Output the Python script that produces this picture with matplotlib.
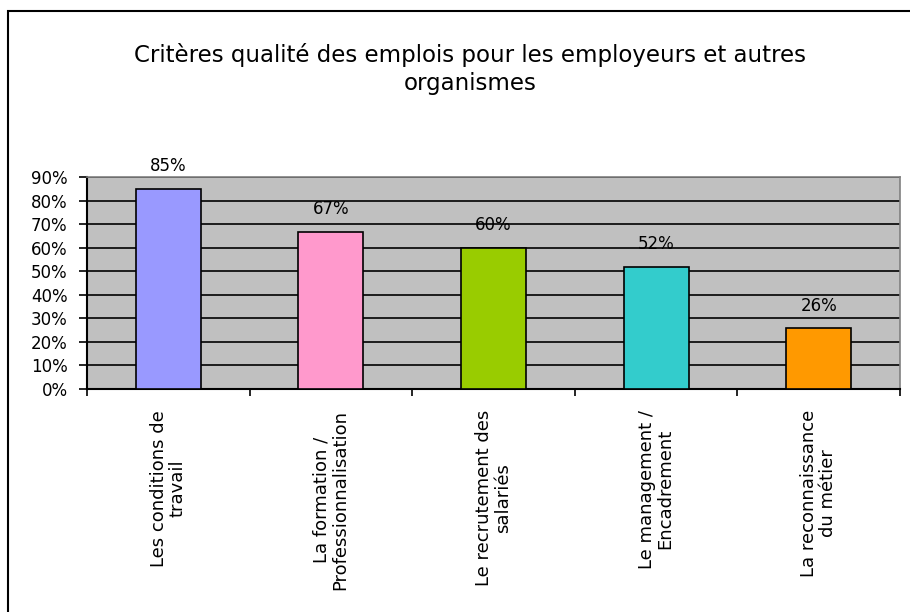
import matplotlib
matplotlib.use('Agg')
import matplotlib.pyplot as plt
from matplotlib.patches import Rectangle
import numpy as np

categories = [
    "Les conditions de\ntravail",
    "La formation /\nProfessionnalisation",
    "Le recrutement des\nsalariés",
    "Le management /\nEncadrement",
    "La reconnaissance\ndu métier",
]
values = [0.85, 0.666, 0.60, 0.518, 0.257]
colors = ["#9999FF", "#FF99CC", "#99CC00", "#33CCCC", "#FF9900"]
yticks = [0, 0.1, 0.2, 0.3, 0.4, 0.5, 0.6, 0.7, 0.8, 0.9]

plt.rcParams['font.family'] = ['DejaVu Sans']

fig = plt.figure(figsize=(9.1, 6.12), dpi=100)
ax = fig.add_axes([87 / 910, 1 - 389 / 612, (900 - 87) / 910, (389 - 177) / 612])
ax.set_facecolor('#C0C0C0')

x = np.arange(len(categories))
ax.bar(x, values, width=0.4, color=colors, edgecolor='black', linewidth=1.2, zorder=3)

for xi, v in zip(x, values):
    ax.annotate(f"{v:.0%}", (xi, v), xytext=(0, 10), textcoords='offset points',
                ha='center', va='bottom', fontsize=12, zorder=4)

ax.set_xlim(-0.5, len(categories) - 0.5)
ax.set_ylim(0, 0.9)
ax.set_yticks(yticks)
ax.set_yticklabels([f"{t:.0%}" for t in yticks], fontsize=12)
ax.yaxis.grid(True, color='black', linewidth=1.2, zorder=1)
ax.set_axisbelow(True)

ax.set_xticks(np.arange(len(categories) + 1) - 0.5)
ax.set_xticklabels([])
ax.set_xticks(x, minor=True)
ax.set_xticklabels(categories, minor=True, rotation=90, fontsize=13,
                   ha='center', va='top', linespacing=1.05)
ax.tick_params(axis='x', which='minor', length=0, pad=15)
ax.tick_params(axis='x', which='major', length=5, width=1.2, direction='out')
ax.tick_params(axis='y', length=6, width=1.2, direction='out', pad=8)

for s in ['left', 'bottom']:
    ax.spines[s].set_linewidth(1.5)
    ax.spines[s].set_color('black')
for s in ['top', 'right']:
    ax.spines[s].set_color('#808080')
    ax.spines[s].set_linewidth(1.2)

fig.text(470 / 910, 1 - 69 / 612,
         "Critères qualité des emplois pour les employeurs et autres\norganismes",
         ha='center', va='center', fontsize=16.5, linespacing=1.25)

fig.patches.append(Rectangle((8 / 910, -0.1), 2, 1 - 11 / 612 + 0.1,
                             transform=fig.transFigure, fill=False,
                             edgecolor='black', linewidth=1.5))

fig.savefig('out.png', dpi=100)
